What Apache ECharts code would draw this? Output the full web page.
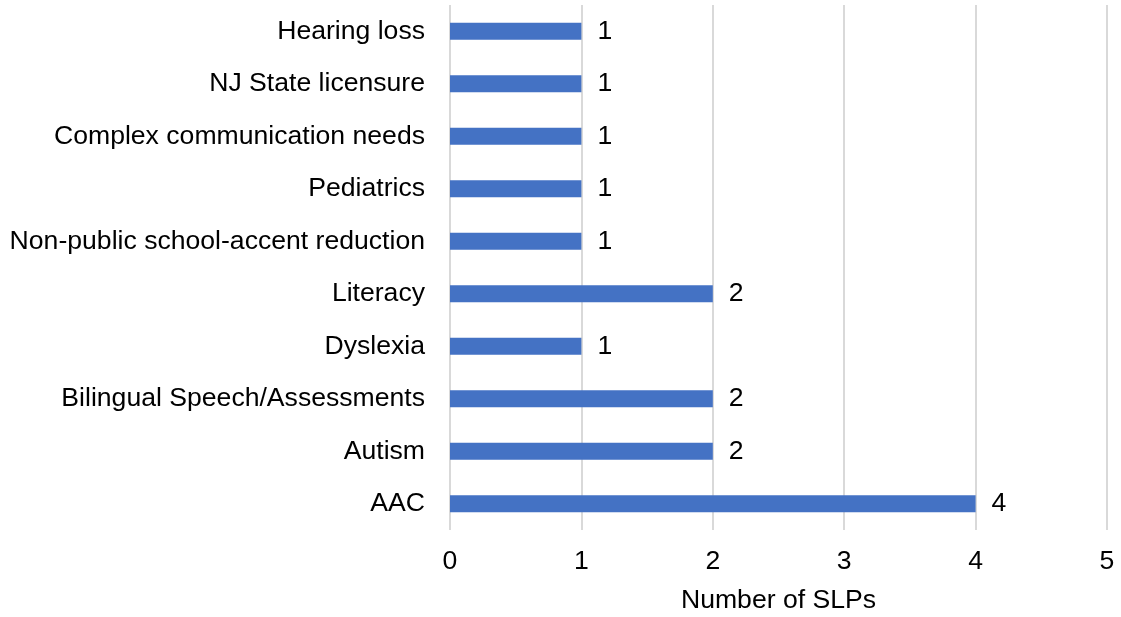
<!DOCTYPE html>
<html>
<head>
<meta charset="utf-8">
<script src="https://cdn.jsdelivr.net/npm/echarts@6/dist/echarts.min.js"></script>
<style>
  html, body { margin: 0; padding: 0; background: #fff; }
  #chart { width: 1121px; height: 617px; }
</style>
</head>
<body>
<div id="chart"></div>
<script>
// categories listed bottom to top (category axis starts at the bottom)
const categories = [
  'AAC',
  'Autism',
  'Bilingual Speech/Assessments',
  'Dyslexia',
  'Literacy',
  'Non-public school-accent reduction',
  'Pediatrics',
  'Complex communication needs',
  'NJ State licensure',
  'Hearing loss'
];
const slpCounts = [4, 2, 2, 1, 2, 1, 1, 1, 1, 1];
const xTicks = [0, 1, 2, 3, 4, 5];

const font = 'Arial, "Liberation Sans", sans-serif';
const fs = 26.6;
const chart = echarts.init(document.getElementById('chart'));

let option = {
  animation: false,
  grid: {
    left: 450,
    right: 14,
    top: 5,
    bottom: 87,
    containLabel: false,
    outerBoundsMode: 'none'
  },
  xAxis: {
    type: 'value',
    min: xTicks[0],
    max: xTicks[xTicks.length - 1],
    interval: 1,
    name: 'Number of SLPs',
    nameLocation: 'middle',
    nameGap: 57,
    nameTextStyle: { color: '#000', fontSize: fs, fontFamily: font },
    axisLine: { show: false },
    axisTick: { show: false },
    axisLabel: { color: '#000', fontSize: fs, fontFamily: font, margin: 18 },
    splitLine: { show: true, lineStyle: { color: '#d9d9d9', width: 2 } }
  },
  yAxis: {
    type: 'category',
    data: categories,
    axisLine: { show: false },
    axisTick: { show: false },
    axisLabel: { color: '#000', fontSize: fs, fontFamily: font, margin: 25 },
    splitLine: { show: false }
  },
  series: [{
    type: 'bar',
    data: slpCounts,
    barWidth: 17,
    itemStyle: { color: '#4472C4' },
    label: {
      show: true,
      position: 'right',
      distance: 16,
      color: '#000',
      fontSize: fs,
      fontFamily: font
    }
  }]
};

chart.setOption(option);
window.addEventListener('resize', function () {
  chart.resize();
});
</script>
</body>
</html>
